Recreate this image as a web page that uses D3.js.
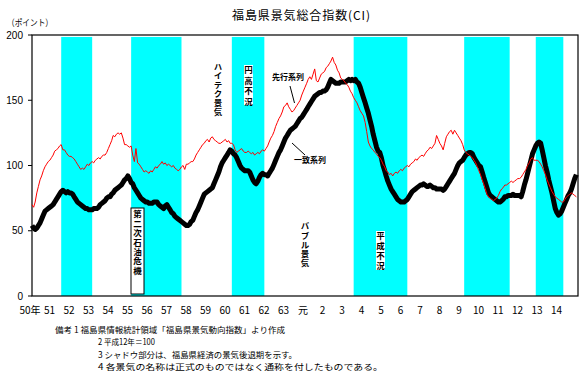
<!DOCTYPE html>
<html>
<head>
<meta charset="utf-8">
<script src="https://cdn.jsdelivr.net/npm/d3@7"></script>
<style>
  body { margin: 0; background: #fff; }
  svg { display: block; font-family: "Noto Sans CJK JP", sans-serif; }
</style>
</head>
<body>
<svg id="chart" width="586" height="377"></svg>
<script>
// monthly series, first value = 1975-01 (昭和50年1月)
const startYear = 1975;

const yearLabels = ["50年", "51", "52", "53", "54", "55", "56", "57", "58", "59",
  "60", "61", "62", "63", "元", "2", "3", "4", "5", "6", "7", "8", "9", "10",
  "11", "12", "13", "14"];

const yTicks = [0, 50, 100, 150, 200];

// 景気後退期 (shaded)
const recessionStart = ["1976-07", "1980-02", "1985-04", "1991-07", "1997-03", "2000-11"];
const recessionEnd   = ["1978-02", "1982-09", "1986-12", "1994-04", "1999-07", "2002-04"];

// 一致系列
const coincident = [
  54, 52, 51, 52, 54, 56, 59, 62, 65, 66, 67, 68,
  69, 70, 72, 74, 76, 78, 80, 81, 80, 79, 80, 79,
  79, 78, 76, 74, 72, 71, 70, 69, 68, 67, 67, 66,
  66, 66, 67, 67, 67, 68, 70, 71, 72, 73, 75, 76,
  76, 78, 79, 81, 82, 83, 84, 85, 87, 89, 90, 92,
  90, 87, 86, 83, 81, 79, 77, 75, 74, 73, 72, 72,
  71, 71, 71, 72, 72, 72, 70, 69, 68, 67, 69, 70,
  68, 66, 64, 63, 61, 60, 59, 58, 57, 56, 55, 54,
  54, 55, 57, 58, 61, 64, 66, 69, 72, 75, 78, 79,
  80, 81, 82, 83, 86, 89, 92, 95, 99, 102, 104, 106,
  108, 110, 112, 111, 109, 108, 106, 103, 100, 98, 97, 96,
  96, 96, 95, 92, 89, 87, 86, 88, 91, 93, 94, 93,
  93, 92, 94, 96, 98, 101, 104, 107, 110, 112, 115, 118,
  121, 123, 125, 127, 128, 129, 130, 132, 134, 136, 137, 139,
  141, 143, 145, 147, 149, 151, 153, 154, 155, 156, 156, 157,
  157, 158, 160, 163, 166, 165, 164, 163, 163, 163, 164, 164,
  164, 164, 165, 166, 165, 166, 165, 166, 164, 163, 160, 156,
  152, 148, 144, 140, 135, 130, 124, 119, 114, 111, 110, 106,
  100, 96, 92, 88, 85, 82, 80, 78, 76, 74, 73, 72,
  72, 72, 73, 74, 76, 78, 80, 81, 82, 83, 84, 85,
  85, 86, 85, 84, 84, 85, 84, 83, 83, 82, 82, 82,
  82, 81, 82, 84, 86, 88, 90, 92, 94, 97, 100, 102,
  103, 104, 106, 108, 109, 110, 110, 109, 106, 104, 102, 100,
  99, 95, 91, 87, 83, 79, 77, 76, 75, 74, 73, 72,
  72, 73, 74, 76, 76, 77, 77, 77, 78, 77, 77, 77,
  77, 76, 80, 85, 89, 94, 99, 104, 109, 112, 115, 117,
  118, 117, 112, 106, 100, 95, 89, 84, 79, 73, 67, 64,
  62, 63, 65, 68, 71, 74, 77, 79, 82, 86, 90, 93
];

// 先行系列
const leading = [
  70, 68, 72, 79, 84, 89, 92, 96, 99, 101, 103, 104,
  106, 108, 111, 112, 113, 115, 116, 112, 112, 110, 108, 107,
  107, 106, 105, 103, 101, 99, 97, 98, 97, 99, 101, 100,
  102, 103, 102, 104, 105, 106, 105, 107, 108, 108, 110, 113,
  116, 119, 123, 122, 124, 125, 124, 125, 121, 116, 116, 115,
  114, 115, 108, 103, 113, 102, 101, 99, 97, 95, 96, 95,
  94, 96, 95, 97, 99, 98, 100, 101, 103, 101, 102, 100,
  101, 100, 99, 100, 98, 97, 96, 97, 99, 100, 97, 101,
  101, 102, 103, 103, 105, 108, 110, 112, 114, 116, 117, 119,
  120, 118, 121, 122, 120, 119, 118, 117, 117, 118, 119, 120,
  118, 119, 117, 117, 116, 112, 110, 111, 112, 113, 111, 110,
  110, 111, 110, 109, 110, 108, 109, 110, 109, 111, 112, 111,
  113, 115, 118, 121, 123, 126, 130, 133, 136, 138, 141, 145,
  146, 148, 145, 143, 141, 142, 144, 146, 148, 150, 154, 157,
  160, 163, 166, 168, 166, 170, 174, 165, 164, 167, 170, 171,
  172, 175, 176, 178, 180, 183, 179, 177, 173, 171, 167, 166,
  165, 163, 162, 160, 157, 155, 152, 150, 148, 145, 142, 140,
  138, 133, 126, 118, 115, 113, 112, 110, 109, 107, 106, 104,
  101, 99, 96, 95, 93, 94, 92, 94, 95, 94, 96, 97,
  96, 98, 99, 100, 99, 101, 102, 103, 105, 104, 106, 107,
  108, 107, 109, 111, 112, 114, 113, 115, 117, 123, 120, 117,
  115, 112, 117, 122, 124, 126, 127, 124, 127, 125, 123, 121,
  119, 116, 112, 110, 109, 108, 107, 106, 104, 102, 99, 96,
  93, 89, 86, 82, 78, 76, 75, 74, 73, 74, 75, 77,
  80, 82, 83, 85, 85, 86, 87, 88, 87, 88, 89, 90,
  90, 91, 93, 95, 97, 100, 102, 105, 106, 104, 104, 104,
  103, 101, 99, 96, 93, 89, 86, 83, 80, 78, 76, 75,
  74, 73, 72, 72, 74, 76, 77, 78, 79, 78, 77, 76
];

const notes = [
  "備考 1 福島県情報統計領域「福島県景気動向指数」より作成",
  "2 平成12年＝100",
  "3 シャドウ部分は、福島県経済の景気後退期を示す。",
  "4 各景気の名称は正式のものではなく通称を付したものである。"
];

const svg = d3.select("#chart");
const plotLeft = 32, plotRight = 578, plotTop = 35, plotBottom = 296;
const numFont = "'Liberation Sans', Arial, sans-serif";

const x = d3.scaleTime()
  .domain([new Date(startYear, 0, 1), new Date(2003, 0, 1)])
  .range([plotLeft, plotRight]);
const y = d3.scaleLinear().domain([0, 200]).range([plotBottom, plotTop]);

const parseMonth = d3.timeParse("%Y-%m");
const monthDate = i => new Date(startYear, i, 1);

// shading
svg.append("g").selectAll("rect")
  .data(d3.zip(recessionStart, recessionEnd))
  .join("rect")
  .attr("x", d => x(parseMonth(d[0])))
  .attr("width", d => x(parseMonth(d[1])) - x(parseMonth(d[0])))
  .attr("y", y(198.5))
  .attr("height", y(0) - y(198.5))
  .attr("fill", "#00ffff");

// frame
svg.append("rect")
  .attr("x", plotLeft).attr("y", plotTop)
  .attr("width", plotRight - plotLeft).attr("height", plotBottom - plotTop)
  .attr("fill", "none").attr("stroke", "#000").attr("stroke-width", 1.2);

// y axis ticks + labels
const yg = svg.append("g");
yg.selectAll("line").data(yTicks).join("line")
  .attr("x1", plotLeft - 4).attr("x2", plotLeft)
  .attr("y1", d => y(d)).attr("y2", d => y(d))
  .attr("stroke", "#000");
yg.selectAll("text").data(yTicks).join("text")
  .attr("x", 23).attr("y", d => y(d) + 3.5)
  .attr("text-anchor", "end").attr("font-size", 10)
  .style("font-family", numFont)
  .text(d => d);

// x labels
svg.append("g").selectAll("text").data(yearLabels).join("text")
  .attr("x", (d, i) => x(new Date(startYear + i, 0, 1)) - 2)
  .attr("y", 314)
  .attr("text-anchor", "middle").attr("font-size", 10)
  .text(d => d);

// lines
const line = d3.line()
  .x((d, i) => x(monthDate(i)))
  .y(d => y(d));

svg.append("path").datum(coincident)
  .attr("d", line)
  .attr("fill", "none").attr("stroke", "#000")
  .attr("stroke-width", 5).attr("stroke-linejoin", "round");

svg.append("path").datum(leading)
  .attr("d", line)
  .attr("fill", "none").attr("stroke", "#ff0000")
  .attr("stroke-width", 1);

// vertical annotations (one text each, written top to bottom)
function vtext(str, cx, cy0, step, size) {
  return svg.append("text")
    .attr("x", cx).attr("y", cy0 - size / 2)
    .style("writing-mode", "vertical-rl")
    .attr("font-size", size)
    .attr("font-weight", "bold")
    .attr("letter-spacing", step - size)
    .text(str);
}

svg.append("rect").attr("x", 244).attr("y", 65).attr("width", 9).attr("height", 40).attr("fill", "#fff");
svg.append("rect").attr("x", 376).attr("y", 231).attr("width", 9).attr("height", 39).attr("fill", "#fff");
svg.append("rect").attr("x", 131).attr("y", 208).attr("width", 13).attr("height", 86)
  .attr("fill", "#fff").attr("stroke", "#000").attr("stroke-width", 1);

vtext("ハイテク景気", 218, 67, 9, 8.5);
vtext("円高不況", 248.5, 70, 10.5, 8.5);
vtext("第二次石油危機", 137.5, 214, 9.45, 8.5);
vtext("バブル景気", 305, 226, 9.3, 8.5);
vtext("平成不況", 380.5, 236, 10, 8.5);

// series labels
svg.append("text").attr("x", 272).attr("y", 80).attr("font-size", 8)
  .attr("font-weight", "bold").text("先行系列");
svg.append("line").attr("x1", 290).attr("y1", 86).attr("x2", 294.5).attr("y2", 103)
  .attr("stroke", "#000");
svg.append("text").attr("x", 294).attr("y", 163).attr("font-size", 8)
  .attr("font-weight", "bold").text("一致系列");
svg.append("line").attr("x1", 292).attr("y1", 143).attr("x2", 305).attr("y2", 155)
  .attr("stroke", "#000");

// title
svg.append("text").attr("x", 232).attr("y", 20).attr("font-size", 12)
  .attr("textLength", 138).text("福島県景気総合指数(CI)");
svg.append("text").attr("x", 7).attr("y", 25.5).attr("font-size", 9)
  .attr("textLength", 46).attr("lengthAdjust", "spacingAndGlyphs").text("（ポイント）");

// notes
const noteX = [55, 98, 98, 98];
const noteLen = [230, 57, 199, 285];
svg.append("g").selectAll("text").data(notes).join("text")
  .attr("x", (d, i) => noteX[i])
  .attr("y", (d, i) => 333 + i * 12.3)
  .attr("font-size", 8.4)
  .attr("textLength", (d, i) => noteLen[i])
  .attr("lengthAdjust", "spacingAndGlyphs")
  .text(d => d);
</script>
</body>
</html>
